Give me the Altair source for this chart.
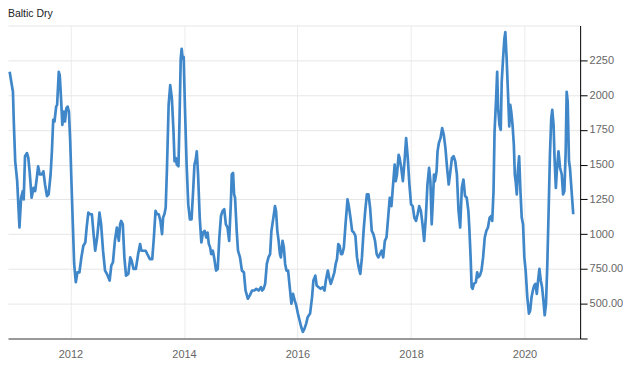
import altair as alt
import pandas as pd

years = [
    2010.929, 2010.987, 2011.004, 2011.027, 2011.062, 2011.102, 2011.131, 2011.160, 2011.177, 2011.200,
    2011.235, 2011.258, 2011.281, 2011.316, 2011.351, 2011.379, 2011.408, 2011.431, 2011.460, 2011.495,
    2011.524, 2011.553, 2011.587, 2011.616, 2011.651, 2011.674, 2011.697, 2011.720, 2011.749, 2011.766,
    2011.795, 2011.812, 2011.835, 2011.858, 2011.882, 2011.905, 2011.928, 2011.951, 2011.974, 2011.997,
    2012.020, 2012.043, 2012.066, 2012.095, 2012.124, 2012.159, 2012.193, 2012.228, 2012.262, 2012.286,
    2012.315, 2012.343, 2012.378, 2012.413, 2012.436, 2012.470, 2012.493, 2012.511, 2012.540, 2012.574,
    2012.609, 2012.643, 2012.690, 2012.719, 2012.748, 2012.782, 2012.817, 2012.851, 2012.874, 2012.892,
    2012.921, 2012.949, 2012.978, 2013.019, 2013.053, 2013.076, 2013.111, 2013.151, 2013.192, 2013.226,
    2013.249, 2013.284, 2013.325, 2013.353, 2013.399, 2013.440, 2013.469, 2013.498, 2013.527, 2013.555,
    2013.584, 2013.613, 2013.631, 2013.654, 2013.677, 2013.700, 2013.729, 2013.757, 2013.786, 2013.815,
    2013.833, 2013.856, 2013.873, 2013.902, 2013.919, 2013.942, 2013.959, 2013.977, 2013.994, 2014.017,
    2014.046, 2014.075, 2014.104, 2014.133, 2014.161, 2014.184, 2014.207, 2014.225, 2014.248, 2014.277,
    2014.306, 2014.334, 2014.363, 2014.392, 2014.415, 2014.438, 2014.461, 2014.479, 2014.508, 2014.531,
    2014.565, 2014.594, 2014.623, 2014.652, 2014.681, 2014.710, 2014.738, 2014.767, 2014.796, 2014.825,
    2014.842, 2014.865, 2014.883, 2014.900, 2014.929, 2014.952, 2014.987, 2015.021, 2015.056, 2015.085,
    2015.125, 2015.160, 2015.200, 2015.241, 2015.275, 2015.316, 2015.356, 2015.379, 2015.402, 2015.431,
    2015.460, 2015.489, 2015.518, 2015.541, 2015.576, 2015.604, 2015.622, 2015.645, 2015.668, 2015.691,
    2015.708, 2015.737, 2015.760, 2015.783, 2015.806, 2015.835, 2015.864, 2015.893, 2015.922, 2015.951,
    2015.979, 2016.008, 2016.037, 2016.066, 2016.095, 2016.124, 2016.153, 2016.181, 2016.222, 2016.257,
    2016.280, 2016.314, 2016.338, 2016.372, 2016.407, 2016.441, 2016.476, 2016.499, 2016.534, 2016.557,
    2016.586, 2016.615, 2016.649, 2016.672, 2016.695, 2016.718, 2016.741, 2016.765, 2016.788, 2016.816,
    2016.845, 2016.880, 2016.903, 2016.932, 2016.961, 2016.990, 2017.019, 2017.047, 2017.076, 2017.105,
    2017.134, 2017.163, 2017.192, 2017.221, 2017.249, 2017.278, 2017.307, 2017.336, 2017.365, 2017.394,
    2017.423, 2017.452, 2017.480, 2017.509, 2017.538, 2017.567, 2017.596, 2017.625, 2017.654, 2017.683,
    2017.711, 2017.729, 2017.752, 2017.781, 2017.798, 2017.827, 2017.856, 2017.885, 2017.913, 2017.942,
    2017.971, 2018.000, 2018.029, 2018.058, 2018.087, 2018.116, 2018.144, 2018.173, 2018.202, 2018.231,
    2018.260, 2018.289, 2018.318, 2018.341, 2018.364, 2018.387, 2018.404, 2018.421, 2018.450, 2018.467,
    2018.490, 2018.519, 2018.548, 2018.577, 2018.606, 2018.635, 2018.664, 2018.693, 2018.721, 2018.750,
    2018.779, 2018.808, 2018.837, 2018.866, 2018.895, 2018.923, 2018.952, 2018.981, 2019.010, 2019.027,
    2019.050, 2019.068, 2019.085, 2019.108, 2019.143, 2019.166, 2019.183, 2019.212, 2019.241, 2019.270,
    2019.299, 2019.327, 2019.356, 2019.385, 2019.414, 2019.431, 2019.454, 2019.472, 2019.500, 2019.518,
    2019.535, 2019.558, 2019.581, 2019.598, 2019.622, 2019.645, 2019.662, 2019.685, 2019.708, 2019.731,
    2019.749, 2019.766, 2019.789, 2019.812, 2019.829, 2019.847, 2019.864, 2019.882, 2019.905, 2019.928,
    2019.951, 2019.974, 2019.997, 2020.020, 2020.049, 2020.078, 2020.100, 2020.124, 2020.147, 2020.170,
    2020.193, 2020.216, 2020.239, 2020.262, 2020.286, 2020.309, 2020.332, 2020.355, 2020.378, 2020.401,
    2020.424, 2020.447, 2020.470, 2020.488, 2020.511, 2020.528, 2020.551, 2020.568, 2020.597, 2020.626,
    2020.655, 2020.678, 2020.701, 2020.724, 2020.741, 2020.759, 2020.782, 2020.799, 2020.828, 2020.857,
]

values = [
    2167, 2024, 1786, 1524, 1381, 1048, 1262, 1310, 1250, 1560,
    1583, 1548, 1452, 1262, 1333, 1310, 1405, 1488, 1429, 1429,
    1452, 1357, 1274, 1286, 1429, 1595, 1821, 1810, 1917, 1929,
    2167, 2143, 1976, 1786, 1881, 1810, 1905, 1917, 1881, 1667,
    1357, 1071, 786, 655, 726, 726, 833, 917, 940, 1048,
    1155, 1143, 1143, 976, 881, 976, 1071, 1155, 1071, 881,
    738, 714, 667, 774, 798, 952, 1048, 952, 1071, 1095,
    1071, 833, 702, 714, 833, 810, 750, 750, 857, 929,
    881, 881, 881, 857, 821, 821, 976, 1167, 1143, 1143,
    1095, 1000, 1119, 1143, 1190, 1476, 1929, 2071, 1976, 1738,
    1524, 1548, 1500, 1488, 1786, 2262, 2333, 2262, 2274, 1905,
    1500, 1214, 1107, 1107, 1310, 1500, 1536, 1595, 1429, 1119,
    940, 1012, 1024, 976, 1012, 929, 905, 857, 881, 833,
    738, 750, 976, 1131, 1167, 1179, 1071, 1048, 952, 1214,
    1429, 1440, 1286, 1262, 1024, 881, 833, 738, 726, 595,
    536, 560, 595, 595, 607, 595, 619, 595, 607, 643,
    786, 833, 857, 1024, 1119, 1202, 1167, 1024, 952, 857,
    833, 952, 905, 786, 738, 738, 619, 500, 571, 524,
    488, 429, 381, 333, 298, 321, 357, 405, 429, 548,
    667, 702, 631, 619, 607, 619, 595, 667, 738, 690,
    643, 679, 726, 786, 821, 929, 917, 857, 857, 905,
    1071, 1250, 1202, 1119, 1024, 1012, 988, 833, 762, 714,
    833, 1024, 1167, 1286, 1286, 1190, 1024, 1000, 952, 857,
    833, 857, 881, 833, 952, 976, 1119, 1262, 1202, 1357,
    1500, 1381, 1429, 1571, 1548, 1476, 1381, 1524, 1690, 1548,
    1357, 1214, 1202, 1119, 1095, 1143, 1202, 1167, 1071, 952,
    1119, 1357, 1476, 1381, 1071, 1262, 1429, 1381, 1452, 1595,
    1655, 1690, 1762, 1714, 1619, 1476, 1357, 1452, 1548, 1560,
    1524, 1429, 1167, 1048, 1333, 1393, 1274, 1262, 1167, 1048,
    833, 619, 607, 643, 655, 726, 690, 702, 738, 833,
    976, 1024, 1048, 1119, 1131, 1095, 1310, 1738, 1976, 2167,
    1905, 1786, 1750, 2095, 2262, 2405, 2452, 2262, 2024, 1774,
    1929, 1881, 1786, 1643, 1429, 1369, 1286, 1452, 1560, 1310,
    1119, 1071, 833, 738, 548, 429, 452, 548, 595, 631,
    643, 571, 667, 750, 667, 619, 524, 417, 500, 786,
    1167, 1571, 1833, 1893, 1786, 1548, 1333, 1452, 1595, 1476,
    1429, 1286, 1310, 1595, 2024, 1952, 1524, 1476, 1310, 1143,
]

title_text = "Baltic Dry"
x_tick_years = [2012, 2014, 2016, 2018, 2020]
y_grid_values = [250, 500, 750, 1000, 1250, 1500, 1750, 2000, 2250, 2500]
y_domain = [250, 2500]
x_domain_years = [2010.900, 2020.978]


def to_date(y):
    base = pd.Timestamp(year=int(y), month=1, day=1)
    nxt = pd.Timestamp(year=int(y) + 1, month=1, day=1)
    return base + (nxt - base) * (y - int(y))


df = pd.DataFrame({"date": [to_date(y) for y in years], "value": values})
x_dom = [to_date(y).isoformat() for y in x_domain_years]
x_ticks = [alt.DateTime(year=y, month=1, date=1) for y in x_tick_years]

FONT = "Liberation Sans"

chart = (
    alt.Chart(df)
    .mark_line(color="#3f87c9", strokeWidth=2.7, strokeJoin="round", clip=True)
    .encode(
        x=alt.X(
            "date:T",
            scale=alt.Scale(domain=x_dom),
            axis=alt.Axis(
                title=None,
                values=x_ticks,
                format="%Y",
                ticks=False,
                grid=True,
                gridColor="#ececec",
                gridWidth=1,
                domainColor="#999999",
                domainWidth=2,
                labelColor="#666666",
                labelFont=FONT,
                labelFontSize=11,
                labelPadding=10,
            ),
        ),
        y=alt.Y(
            "value:Q",
            scale=alt.Scale(domain=y_domain, nice=False, zero=False),
            axis=alt.Axis(
                title=None,
                orient="right",
                values=y_grid_values,
                labelExpr="(datum.value >= 2500 || datum.value <= 250) ? '' : (datum.value < 1000 ? format(datum.value, '.2f') : format(datum.value, 'd'))",
                grid=True,
                gridColor="#e6e6e6",
                gridWidth=1,
                domainColor="#000000",
                domainWidth=1,
                tickColor="#000000",
                tickOpacity={"condition": {"test": "datum.value >= 2500", "value": 0}, "value": 1},
                tickSize=7,
                labelColor="#666666",
                labelFont=FONT,
                labelFontSize=11,
                labelPadding=2,
            ),
        ),
    )
    .properties(
        width=574,
        height=314,
        padding=0,
        title=alt.TitleParams(
            text=title_text,
            anchor="start",
            fontSize=10.5,
            fontWeight="normal",
            font=FONT,
            color="#222222",
            offset=6,
        ),
    )
    .configure_view(strokeWidth=0)
)

chart.save("out.html", embed_options={"renderer": "svg", "actions": False})
